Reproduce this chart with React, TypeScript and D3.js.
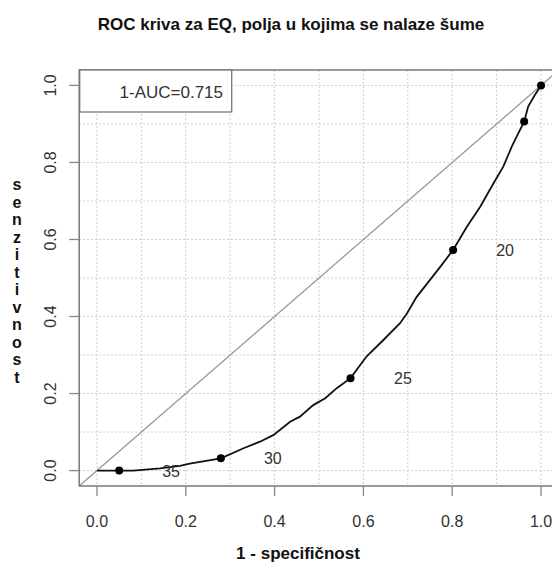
import * as d3 from "d3";

// ROC curve (1 - specificity, sensitivity)
const fpr = [0, 0.05, 0.082, 0.142, 0.187, 0.209, 0.279, 0.33, 0.367, 0.397, 0.435, 0.457, 0.487, 0.514, 0.54, 0.571, 0.607, 0.645, 0.682, 0.698, 0.72, 0.75, 0.773, 0.802, 0.833, 0.863, 0.893, 0.915, 0.934, 0.949, 0.962, 0.971, 0.986, 1.0];
const tpr = [0, 0, 0, 0.006, 0.012, 0.018, 0.032, 0.058, 0.075, 0.092, 0.127, 0.14, 0.17, 0.188, 0.214, 0.24, 0.296, 0.339, 0.382, 0.408, 0.451, 0.495, 0.529, 0.573, 0.633, 0.685, 0.746, 0.789, 0.841, 0.876, 0.906, 0.945, 0.975, 1.0];

// threshold points
const markX = [0.05, 0.279, 0.571, 0.802, 0.962, 1.0];
const markY = [0, 0.032, 0.24, 0.573, 0.906, 1.0];

// threshold labels
const labelText = ["35", "30", "25", "20"];
const labelX = [0.167, 0.396, 0.689, 0.919];
const labelY = [0.0, 0.032, 0.24, 0.573];

const ticks = [0, 0.2, 0.4, 0.6, 0.8, 1.0];
const gridTicks = d3.range(0, 11).map(i => i / 10);

const title = "ROC kriva za EQ, polja u kojima se nalaze šume";
const xTitle = "1 - specifičnost";
const yTitle = "senzitivnost";
const aucLabel = "1-AUC=0.715";

const W = 552, H = 563;
const plot = { left: 79.2, right: 558.8, top: 70, bottom: 486 };
const font = "'Liberation Sans', Arial, sans-serif";

export default function App() {
  const x = d3.scaleLinear([-0.04, 1.04], [plot.left, plot.right]);
  const y = d3.scaleLinear([-0.04, 1.04], [plot.bottom, plot.top]);
  const pts = fpr.map((f, i) => [f, tpr[i]] as [number, number]);
  const line = d3.line<[number, number]>().x(d => x(d[0])).y(d => y(d[1]));
  const fmt = d3.format(".1f");

  return (
    <svg width={W} height={H} style={{ position: "absolute", left: 0, top: 0, background: "#fff" }} fontFamily={font}>
      <defs>
        <clipPath id="plotclip">
          <rect x={plot.left} y={plot.top} width={plot.right - plot.left} height={plot.bottom - plot.top} />
        </clipPath>
      </defs>
      <text x={291} y={30} textAnchor="middle" fontSize={17} fontWeight="bold" fill="#111">{title}</text>

      <g clipPath="url(#plotclip)">
        {gridTicks.map(t => (
          <g key={"g" + t}>
            <line x1={x(t)} x2={x(t)} y1={plot.top} y2={plot.bottom} stroke="#cfcfcf" strokeDasharray="2,2" />
            <line y1={y(t)} y2={y(t)} x1={plot.left} x2={plot.right} stroke="#cfcfcf" strokeDasharray="2,2" />
          </g>
        ))}
        <line x1={x(-0.04)} y1={y(-0.04)} x2={x(1.04)} y2={y(1.04)} stroke="#999" strokeWidth={1.3} />
        <path d={line(pts)} fill="none" stroke="#111" strokeWidth={1.8} />
        {markX.map((m, i) => (
          <circle key={"m" + i} cx={x(m)} cy={y(markY[i])} r={4} fill="#000" />
        ))}
        {labelText.map((l, i) => (
          <text key={"l" + i} x={x(labelX[i])} y={y(labelY[i]) + 6} textAnchor="middle" fontSize={16} fill="#333">{l}</text>
        ))}
      </g>

      <rect x={plot.left} y={plot.top} width={plot.right - plot.left} height={plot.bottom - plot.top} fill="none" stroke="#777" strokeWidth={1.5} />

      {/* legend */}
      <rect x={plot.left + 0.5} y={plot.top} width={152} height={42} fill="#fff" stroke="#777" strokeWidth={1.3} />
      <text x={223} y={98} textAnchor="end" fontSize={17} fill="#333">{aucLabel}</text>

      {/* x axis */}
      {ticks.map(t => (
        <g key={"x" + t}>
          <line x1={x(t)} x2={x(t)} y1={plot.bottom} y2={plot.bottom + 10} stroke="#888" strokeWidth={1.3} />
          <text x={x(t)} y={527} textAnchor="middle" fontSize={16} fill="#333">{fmt(t)}</text>
        </g>
      ))}
      {/* y axis */}
      {ticks.map(t => (
        <g key={"y" + t}>
          <line x1={plot.left - 10} x2={plot.left} y1={y(t)} y2={y(t)} stroke="#888" strokeWidth={1.3} />
          <text transform={`translate(56,${y(t)}) rotate(-90)`} textAnchor="middle" fontSize={16} fill="#333">{fmt(t)}</text>
        </g>
      ))}

      <text x={298} y={559} textAnchor="middle" fontSize={17} fontWeight="bold" fill="#111">{xTitle}</text>
      {yTitle.split("").map((c, i) => (
        <text key={"c" + i} x={17} y={190 + i * 17.5} textAnchor="middle" fontSize={16} fontWeight="bold" fill="#111">{c}</text>
      ))}
    </svg>
  );
}
